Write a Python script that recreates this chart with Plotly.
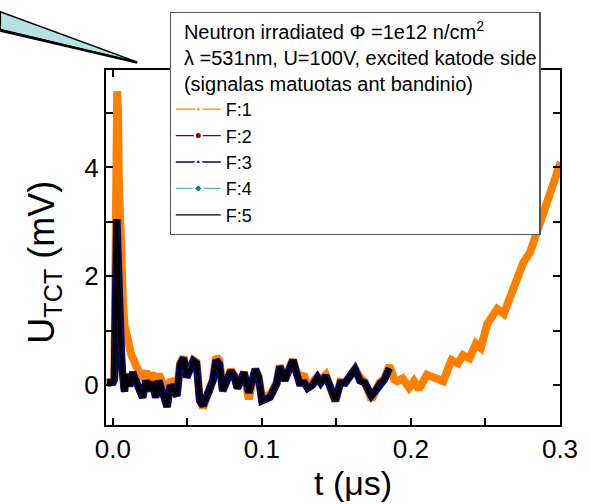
import plotly.graph_objects as go

# ---------------- data ----------------
t_f1 = [-0.004, -0.002, 0.0, 0.001, 0.0015, 0.0022, 0.0029, 0.0034, 0.004, 0.0046,
        0.0052, 0.006, 0.0068, 0.0078, 0.009, 0.0102, 0.0112, 0.0124, 0.0134, 0.0146,
        0.0156, 0.0173, 0.020, 0.0222, 0.0243, 0.0265, 0.0287, 0.0309, 0.0331, 0.0364,
        0.0386, 0.0408, 0.043, 0.0452, 0.0474, 0.0496, 0.0518, 0.054, 0.0561, 0.0583,
        0.0605, 0.0627, 0.0649, 0.0671, 0.0693, 0.0715, 0.0737, 0.0759, 0.0792, 0.0814,
        0.0836, 0.088, 0.0912, 0.0956, 0.0978, 0.1, 0.1033, 0.1055, 0.1099, 0.112,
        0.1153, 0.1186, 0.1208, 0.123, 0.1252, 0.1285, 0.1307, 0.134, 0.1373, 0.1395,
        0.1428, 0.146, 0.1493, 0.1526, 0.1559, 0.1592, 0.1625, 0.1658, 0.169, 0.1735,
        0.1768, 0.179, 0.1822, 0.1855, 0.1888, 0.191, 0.1943, 0.1987, 0.202, 0.2053,
        0.2107, 0.2162, 0.2217, 0.2272, 0.2316, 0.2349, 0.2393, 0.2436, 0.2469, 0.2513,
        0.2579, 0.2623, 0.2667, 0.27, 0.2754, 0.2798, 0.2831, 0.2875, 0.2919, 0.2963,
        0.2996, 0.3005]
u_f1 = [0.05, 0.04, 0.06, 0.15, 1.8, 4.2, 5.4, 5.1, 3.8, 2.9,
        2.6, 2.2, 1.5, 1.1, 0.95, 0.7, 0.6, 0.55, 0.5, 0.4,
        0.32, 0.25, 0.15, 0.25, 0.1, 0.22, 0.05, 0.2, 0.05, -0.25,
        0.1, 0.02, -0.05, 0.4, 0.52, 0.18, 0.34, 0.46, 0.42, -0.25,
        -0.42, -0.25, -0.15, 0.1, 0.52, 0.45, -0.08, 0.1, 0.28, 0.18,
        -0.04, 0.24, -0.26, 0.3, 0.16, -0.22, -0.18, -0.18, 0.05, 0.36,
        0.1, 0.33, 0.47, 0.26, 0.18, 0.16, -0.02, 0.05, 0.16, 0.1,
        0.19, -0.06, -0.3, 0.06, 0.05, 0.16, 0.3, 0.14, 0.06, -0.27,
        -0.06, 0.05, 0.12, 0.36, 0.1, 0.07, 0.12, -0.05, 0.07, -0.08,
        0.19, 0.13, 0.07, 0.46, 0.4, 0.55, 0.49, 0.76, 0.68, 1.13,
        1.4, 1.31, 1.64, 1.79, 2.25, 2.43, 2.7, 2.98, 3.31, 3.67,
        3.98, 4.1]

t_f2_f5 = [-0.004, -0.002, 0.0, 0.001, 0.0015, 0.0022, 0.0027, 0.0033, 0.004, 0.0048,
           0.0055, 0.0062, 0.0068, 0.0078, 0.009, 0.0102, 0.0112, 0.0124, 0.0134, 0.0146,
           0.0156, 0.0173, 0.020, 0.0222, 0.0243, 0.0265, 0.0287, 0.0309, 0.0331, 0.0364,
           0.0386, 0.0408, 0.043, 0.0452, 0.0474, 0.0496, 0.0518, 0.054, 0.0561, 0.0583,
           0.0605, 0.0627, 0.0649, 0.0671, 0.0693, 0.0715, 0.0737, 0.0759, 0.0792, 0.0814,
           0.0836, 0.088, 0.0912, 0.0956, 0.0978, 0.1, 0.1033, 0.1055, 0.1099, 0.112,
           0.1153, 0.1186, 0.1208, 0.123, 0.1252, 0.1285, 0.1307, 0.134, 0.1373, 0.1395,
           0.1428, 0.146, 0.1493, 0.1526, 0.1559, 0.1592, 0.1625, 0.1658, 0.169, 0.1735,
           0.1768, 0.179, 0.1822, 0.1855]
u_f2_f5 = [0.04, 0.03, 0.05, 0.1, 1.5, 2.8, 3.05, 2.5, 1.3, 0.8,
           0.75, 0.3, -0.05, -0.12, 0.2, 0.05, -0.02, 0.1, 0.24, 0.12,
           0.08, -0.05, -0.23, 0.08, -0.11, 0.06, -0.23, 0.08, -0.1, -0.4,
           0.0, -0.1, -0.2, 0.38, 0.5, 0.14, 0.32, 0.44, 0.4, -0.29,
           -0.38, -0.2, -0.12, 0.08, 0.46, 0.38, -0.11, 0.08, 0.26, 0.16,
           -0.06, 0.23, -0.14, 0.29, 0.14, -0.29, -0.26, -0.22, 0.02, 0.34,
           0.08, 0.31, 0.46, 0.24, 0.04, 0.04, -0.06, 0.0, 0.14, 0.04,
           0.17, -0.04, -0.29, 0.04, 0.04, 0.17, 0.29, 0.08, 0.04, -0.2,
           -0.08, 0.04, 0.1, 0.31]

series_names = ["F:1", "F:2", "F:3", "F:4", "F:5"]
line_colors = ["#FF8000", "#800000", "#000080", "#66B3B3", "#000000"]
marker_colors = ["#FF8000", "#800000", "#000080", "#008080", "#000000"]
marker_symbols = ["triangle-right", "circle", "triangle-up", "diamond", None]
data_widths = [8, 6, 7.5, 4, 4.5]

PAD = "\u00a0\u00a0"
legend_title = (PAD + "Neutron irradiated \u03a6 =1e12 n/cm<sup>2</sup><br>"
                + PAD + "\u03bb =531nm, U=100V, excited katode side<br>"
                + PAD + "(signalas matuotas ant bandinio)")

FONT = "Liberation Sans, Arial, sans-serif"

fig = go.Figure()

# data traces
series_t = [t_f1, t_f2_f5, t_f2_f5, t_f2_f5, t_f2_f5]
series_u = [u_f1, u_f2_f5, u_f2_f5, u_f2_f5, u_f2_f5]
for name, tx, uy, col, w in zip(series_names, series_t, series_u, line_colors, data_widths):
    fig.add_trace(go.Scatter(x=tx, y=uy, mode="lines", name=name, showlegend=False,
                             line=dict(color=col, width=w), hoverinfo="skip"))

# legend entries
for name, lc, mc, sym in zip(series_names, line_colors, marker_colors, marker_symbols):
    if sym is None:
        fig.add_trace(go.Scatter(x=[None], y=[None], mode="lines", name=name,
                                 line=dict(color=lc, width=1.3)))
    else:
        fig.add_trace(go.Scatter(x=[None], y=[None], mode="lines+markers", name=name,
                                 line=dict(color=lc, width=1.3),
                                 marker=dict(color=mc, symbol=sym, size=7,
                                             line=dict(color="white", width=2))))

# callout pointer (decoration, top-left)
W, H, L, T = 464.0, 360.0, 106.0, 65.0
def px(xp, yp):
    return (xp - L) / W, (T + H - yp) / H

p1, p2, p3 = px(-2, 6), px(-2, 24), px(138, 57)
fig.add_shape(type="path", xref="paper", yref="paper",
              path=f"M {p1[0]},{p1[1]} L {p3[0]},{p3[1]} L {p2[0]},{p2[1]} Z",
              fillcolor="#B4E1E1", line=dict(color="black", width=1.5), layer="above")
q1, q2 = px(-2, 25), px(138, 57.5)
fig.add_shape(type="line", xref="paper", yref="paper", x0=q1[0], y0=q1[1], x1=q2[0], y1=q2[1],
              line=dict(color="black", width=2.5), layer="above")

axis_common = dict(showline=True, linecolor="black", linewidth=2, mirror="ticks",
                   ticks="inside", ticklen=7, tickwidth=1.5, tickcolor="black",
                   showgrid=False, zeroline=False,
                   tickfont=dict(family=FONT, size=26, color="black"))

fig.update_xaxes(range=[-0.0046, 0.3], tick0=0, dtick=0.1, tickformat=".1f",
                 minor=dict(dtick=0.05, ticks="inside", ticklen=7, tickwidth=1.5,
                            tickcolor="black", showgrid=False),
                 **axis_common)
fig.update_yaxes(range=[-0.734, 5.79], tick0=0, dtick=2,
                 minor=dict(dtick=1, ticks="inside", ticklen=7, tickwidth=1.5,
                            tickcolor="black", showgrid=False),
                 **axis_common)

fig.add_annotation(text="t (\u03bcs)", xref="paper", yref="paper",
                   x=(358 - L) / W, y=(T + H - 484) / H, showarrow=False,
                   font=dict(family=FONT, size=34, color="black"),
                   xanchor="center", yanchor="middle")
fig.add_annotation(text="U<sub>TCT</sub> (mV)", xref="paper", yref="paper",
                   x=(43 - L) / W, y=(T + H - 260) / H, showarrow=False, textangle=-90,
                   font=dict(family=FONT, size=36, color="black"),
                   xanchor="center", yanchor="middle")

fig.update_layout(
    width=590, height=504, autosize=False,
    margin=dict(l=106, r=20, t=65, b=79),
    paper_bgcolor="white", plot_bgcolor="white",
    font=dict(family=FONT, color="black"),
    legend=dict(x=(171 - L) / W, y=(T + H - 6) / H, xanchor="left", yanchor="top",
                bgcolor="white", bordercolor="#555555", borderwidth=1.2,
                font=dict(family=FONT, size=18, color="black"),
                title=dict(text=legend_title, font=dict(family=FONT, size=20, color="black")),
                itemwidth=45, tracegroupgap=0),
    showlegend=True,
)

fig.write_html("out.html")
